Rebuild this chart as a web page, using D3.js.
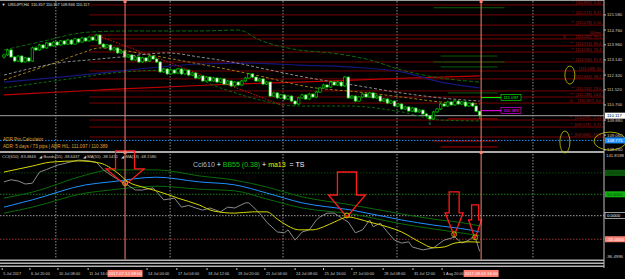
<!DOCTYPE html>
<html>
<head>
<meta charset="utf-8">
<script src="https://cdn.jsdelivr.net/npm/d3@7"></script>
<style>
  body { margin: 0; background: #000; overflow: hidden; }
  svg { display: block; font-family: 'Liberation Sans', Arial, sans-serif; }
  text { white-space: pre; }
</style>
</head>
<body>
<div id="chart"></div>
<script>
// USDJPY H4 candles (bar 0 = 5 Jul 2017), open of each bar = previous close
const firstOpen = 113.30
const closes = [113.41, 113.68, 113.30, 113.08, 113.35, 113.03, 113.25, 113.08, 113.79, 113.68,
  113.95, 113.79, 114.06, 113.90, 114.11, 113.95, 114.17, 114.00, 114.22, 114.00,
  114.28, 114.11, 114.33, 114.17, 114.38, 114.22, 114.49, 114.00, 113.84, 113.95,
  113.68, 113.79, 113.52, 113.62, 113.30, 113.41, 113.14, 113.30, 113.03, 113.25,
  113.08, 113.35, 113.19, 113.03, 112.49, 112.65, 112.38, 112.59, 112.43, 112.65,
  112.38, 112.59, 112.32, 112.43, 112.16, 112.27, 112.00, 112.21, 112.00, 112.16,
  111.94, 112.11, 111.83, 112.00, 111.73, 111.94, 111.78, 112.00, 112.16, 112.38,
  112.21, 112.00, 112.11, 111.83, 111.94, 111.18, 111.35, 111.08, 111.24, 111.02,
  111.18, 110.91, 110.75, 111.08, 111.24, 111.02, 111.29, 111.13, 111.40, 111.62,
  111.78, 111.67, 111.94, 111.78, 111.94, 111.73, 112.21, 111.08, 111.18, 110.91,
  111.13, 111.29, 111.13, 111.35, 111.08, 111.18, 110.91, 111.02, 110.80, 110.91,
  110.64, 110.75, 110.48, 110.59, 110.37, 110.53, 110.32, 110.42, 110.21, 110.10,
  109.94, 110.32, 110.48, 110.75, 110.64, 110.86, 110.70, 110.91, 110.75, 110.86,
  110.64, 110.80, 110.64, 110.36, 110.12]
const highs = [113.47, 113.74, 113.73, 113.35, 113.40, 113.39, 113.31, 113.29, 113.86, 113.88,
  114.01, 114.00, 114.12, 114.10, 114.18, 114.16, 114.22, 114.21, 114.29, 114.26,
  114.34, 114.32, 114.39, 114.37, 114.44, 114.42, 114.55, 114.52, 114.05, 114.00,
  113.99, 113.85, 113.83, 113.68, 113.66, 113.47, 113.45, 113.36, 113.34, 113.31,
  113.29, 113.41, 113.40, 113.24, 113.08, 112.71, 112.69, 112.65, 112.64, 112.71,
  112.69, 112.65, 112.63, 112.49, 112.47, 112.33, 112.31, 112.27, 112.25, 112.22,
  112.20, 112.17, 112.15, 112.06, 112.04, 112.00, 111.99, 112.06, 112.22, 112.44,
  112.42, 112.25, 112.17, 112.15, 112.00, 111.98, 111.41, 111.39, 111.30, 111.28,
  111.24, 111.22, 110.96, 111.14, 111.30, 111.28, 111.35, 111.33, 111.46, 111.68,
  111.84, 111.83, 112.00, 111.99, 112.00, 111.98, 112.27, 112.25, 111.24, 111.22,
  111.19, 111.35, 111.33, 111.41, 111.39, 111.24, 111.22, 111.08, 111.06, 110.97,
  110.95, 110.81, 110.79, 110.65, 110.63, 110.59, 110.57, 110.48, 110.46, 110.26,
  110.15, 110.38, 110.54, 110.81, 110.80, 110.92, 110.91, 110.97, 110.96, 110.92,
  110.90, 110.86, 110.85, 110.69, 110.36]
const lows = [113.22, 113.36, 113.24, 113.01, 113.03, 112.97, 112.99, 113.02, 113.04, 113.62,
  113.63, 113.72, 113.74, 113.85, 113.86, 113.90, 113.91, 113.94, 113.96, 113.95,
  113.96, 114.05, 114.07, 114.12, 114.13, 114.17, 114.18, 113.95, 113.78, 113.79,
  113.62, 113.63, 113.46, 113.47, 113.24, 113.25, 113.08, 113.09, 112.97, 112.98,
  113.02, 113.03, 113.14, 112.97, 112.43, 112.44, 112.32, 112.33, 112.38, 112.38,
  112.32, 112.33, 112.26, 112.27, 112.10, 112.11, 111.94, 111.95, 111.95, 111.95,
  111.88, 111.89, 111.77, 111.78, 111.67, 111.68, 111.73, 111.73, 111.95, 112.11,
  112.16, 111.94, 111.95, 111.77, 111.78, 111.12, 111.13, 111.02, 111.03, 110.96,
  110.97, 110.85, 110.68, 110.70, 111.03, 110.97, 110.97, 111.08, 111.08, 111.35,
  111.57, 111.62, 111.62, 111.73, 111.73, 111.67, 111.68, 111.02, 111.03, 110.85,
  110.86, 111.08, 111.08, 111.08, 111.02, 111.03, 110.85, 110.86, 110.74, 110.75,
  110.58, 110.59, 110.42, 110.43, 110.31, 110.32, 110.26, 110.27, 110.15, 110.03,
  109.86, 109.89, 110.27, 110.43, 110.59, 110.59, 110.65, 110.65, 110.70, 110.70,
  110.58, 110.59, 110.59, 110.30, 109.95]

// moving averages on price: [bar, price]
const maGreenUpper = [[0, 113.68], [10, 114.11], [24, 114.65], [35, 114.71], [55, 114.71], [66, 114.76], [72, 114.22], [83, 113.68], [92, 113.52], [103, 113.14], [112, 112.59], [123, 112.16], [134, 111.94]]
const maGreenLower = [[0, 111.62], [16, 112.05], [34, 112.49], [47, 112.59], [61, 111.62], [72, 110.97], [83, 110.64], [97, 110.64], [112, 110.32], [123, 109.88], [134, 109.83]]
const maSilver = [[0, 112.32], [7, 112.65], [15, 112.97], [24, 113.14], [33, 113.30], [46, 113.52], [55, 113.30], [64, 113.03], [75, 112.59], [83, 112.27], [100, 111.73], [112, 111.35], [123, 111.08], [134, 110.91]]
const maOrange = [[0, 112.05], [15, 113.03], [22, 113.52], [27, 113.79], [41, 113.41], [55, 112.92], [64, 112.59], [72, 112.27], [86, 111.67], [100, 111.40], [112, 111.13], [123, 110.86], [134, 110.75]]
const maNavy = [[0, 111.94], [16, 112.21], [35, 112.59], [55, 112.92], [69, 112.97], [83, 112.86], [97, 112.76], [112, 112.49], [123, 111.94], [134, 111.62]]
const maRed = [[0, 111.24], [27, 111.51], [58, 111.78], [83, 111.94], [114, 112.16], [134, 112.27]]
const trendLine = [[26, 114.49], [79, 110.64]]

// fibo / pivot levels drawn from bar 24 to the axis
const fibPrices = [116.12, 115.58, 115.03, 114.49, 114.28, 113.90, 113.57, 113.03, 112.54, 112.11, 111.46, 111.13, 110.80, 109.88, 109.50, 108.96]
const fibLabels = ['*  [116.863]  3.45', '*  [115.571]  8.22', '**  [115.078]  5.16', '100ma', 'd          [114.282]  99.5',
  '***  [113.913]  86.4', '**  [113.585]  76.4', '*  [113.356]  61.8', '[113.049]  50', '*  [112.843]  38.2',
  '**  [111.532]  23.6', '***  [111.288]  14.6', 't1     [110.847]  0.0', '**  [110.079]  -2.14', '*  [109.577]  -9.72', '*  [109.066]  -16.8']
const greenStubs = [[121, 141, 115.97], [123, 139, 113.35], [121, 141, 113.03], [123, 139, 112.76], [125, 139, 111.35]]
const redStubs = [[125, 139, 109.94], [121, 139, 108.74], [123, 139, 108.42]]

const priceTicks = [115.580, 114.760, 113.960, 113.140, 112.320, 111.520, 110.700, 109.880, 109.060, 108.260]
const lastPrice = 110.117
const adrHigh = 111.097
const adrLow = 110.389
const bluePrice = 108.775

// CCI pane: [bar, value]
const cciMain = [[0, 79], [2, 84], [4, 81], [6, 74], [8, 76], [10, 102], [12, 108], [15, 118], [18, 124], [21, 130], [24, 128], [26, 125], [28, 107], [31, 90], [34, 76], [37, 60], [39, 60], [42, 65], [45, 37], [48, 41], [50, 20], [52, 24], [54, 18], [56, 13], [58, 18], [61, 9], [63, 20], [65, 18], [68, 30], [69, 30], [72, 6], [74, -15], [77, -38], [79, -40], [80, -33], [82, -57], [84, -38], [86, -33], [88, -10], [89, -3], [91, 6], [93, 6], [96, -10], [97, -15], [99, -40], [101, -33], [103, -10], [104, -26], [106, -17], [108, -38], [110, -57], [112, -64], [114, -61], [115, -73], [118, -80], [121, -75], [124, -57], [127, -50], [129, -64], [131, -57], [132, -50], [133, -57], [134, -83.5]]
const cciMa13 = [[0, 102], [8, 116], [13, 125], [21, 128], [27, 123], [32, 100], [35, 79], [39, 67], [43, 58], [49, 41], [55, 25], [59, 11], [65, 6], [70, 9], [74, 9], [77, -8], [80, -24], [83, -33], [87, -33], [90, -26], [93, -15], [97, -3], [100, -8], [103, -15], [108, -26], [112, -38], [117, -61], [121, -75], [124, -73], [127, -64], [131, -61], [134, -62]]
const cciMa55 = [[0, 20], [8, 37], [23, 72], [30, 79], [43, 90], [55, 79], [65, 72], [74, 53], [84, 30], [98, 13], [112, -10], [121, -22], [131, -33], [134, -38]]
const bandUpper = [[0, 41], [8, 55], [23, 95], [30, 107], [43, 107], [55, 93], [65, 83], [74, 67], [84, 44], [98, 25], [112, 4], [121, -8], [131, -19], [134, -24]]
const bandLower = [[0, 6], [8, 20], [23, 53], [30, 60], [43, 69], [55, 62], [65, 58], [74, 39], [84, 18], [98, 4], [112, -19], [121, -31], [131, -43], [134, -47]]
const cciLevels = [100, 50, 0, -55]
const cciLevelLabels = ['100.0000', '50.0000', '0.0000', '-55.0000']

// arrows marking signals: tip bar, tip value, shaft width, head width, height, shaft height
const arrows = [[34.1, 72, 19, 38, 34, 18], [96.6, -3, 19, 37, 45, 23], [126.8, -47, 10, 18, 44, 21], [132.7, -54, 7, 13, 34, 15]]

const gridBars = [14.6, 46.8, 78.6, 110.7, 149]
const cursorBars = [34.1, 134.4]
const timeBars = [-0.5, 7.3, 15.2, 23.7, 40.3, 48.7, 57.2, 65.6, 73.5, 82, 90, 98, 106.8, 115.2, 123.4]
const timeLabels = ['5 Jul 2017', '6 Jul 20:00', '10 Jul 08:00', '11 Jul 16:00', '14 Jul 00:00', '17 Jul 04:00', '18 Jul 12:00', '19 Jul 20:00', '21 Jul 04:00', '24 Jul 08:00', '25 Jul 16:00', '27 Jul 00:00', '28 Jul 08:00', '31 Jul 12:00', '1 Aug 20:00']
const cursorLabels = ['2017.07.12 08:00', '2017.08.03 16:00']

const width = 625
const height = 279
const axisX = 604

const svg = d3
  .select('#chart')
  .append('svg')
  .attr('width', width)
  .attr('height', height)

svg.append('rect').attr('width', width).attr('height', height).attr('fill', '#000')

const x = d3.scaleLinear().domain([0, 134]).range([4, 479.7])
const yPrice = d3.scaleLinear().domain([108.147, 116.39]).range([152, 0])
const yCci = d3.scaleLinear().domain([-96.4996, 141.8188]).range([257, 155])

const defs = svg.append('defs')
defs.append('clipPath').attr('id', 'mainClip').append('rect').attr('x', 0).attr('y', 1).attr('width', axisX).attr('height', 150)
defs.append('clipPath').attr('id', 'cciClip').append('rect').attr('x', 0).attr('y', 153).attr('width', axisX).attr('height', 106)

// vertical grid
svg
  .selectAll('.grid')
  .data(gridBars)
  .join('line')
  .attr('x1', (d) => x(d))
  .attr('x2', (d) => x(d))
  .attr('y1', 1)
  .attr('y2', 259)
  .attr('stroke', '#b8b8b8')
  .attr('stroke-width', 0.8)
  .attr('stroke-dasharray', '1.5,1.5')

const main = svg.append('g').attr('clip-path', 'url(#mainClip)')

// fib levels
main
  .selectAll('.fib')
  .data(fibPrices)
  .join('line')
  .attr('x1', x(24))
  .attr('x2', axisX)
  .attr('y1', (d) => yPrice(d))
  .attr('y2', (d) => yPrice(d))
  .attr('stroke', '#7a0000')
  .attr('stroke-width', 1)

main
  .selectAll('.fibLabel')
  .data(fibPrices)
  .join('text')
  .attr('x', 601)
  .attr('y', (d) => yPrice(d) - 1)
  .attr('text-anchor', 'end')
  .attr('font-size', 3.8)
  .attr('fill', '#a01818')
  .text((d, i) => fibLabels[i])

// short pivot segments
main
  .selectAll('.gstub')
  .data(greenStubs)
  .join('line')
  .attr('x1', (d) => x(d[0]))
  .attr('x2', (d) => x(d[1]))
  .attr('y1', (d) => yPrice(d[2]))
  .attr('y2', (d) => yPrice(d[2]))
  .attr('stroke', '#0a5a0a')
  .attr('stroke-width', 1)
main
  .selectAll('.rstub')
  .data(redStubs)
  .join('line')
  .attr('x1', (d) => x(d[0]))
  .attr('x2', (d) => x(d[1]))
  .attr('y1', (d) => yPrice(d[2]))
  .attr('y2', (d) => yPrice(d[2]))
  .attr('stroke', '#b00000')
  .attr('stroke-width', 1)

// current price + blue dotted level
main
  .append('line')
  .attr('x1', 0)
  .attr('x2', axisX)
  .attr('y1', yPrice(lastPrice))
  .attr('y2', yPrice(lastPrice))
  .attr('stroke', '#a0a0a0')
  .attr('stroke-width', 1)
main
  .append('line')
  .attr('x1', 0)
  .attr('x2', axisX)
  .attr('y1', yPrice(bluePrice))
  .attr('y2', yPrice(bluePrice))
  .attr('stroke', '#1e90ff')
  .attr('stroke-width', 1)
  .attr('stroke-dasharray', '1.5,1.5')

const priceLine = d3
  .line()
  .x((d) => x(d[0]))
  .y((d) => yPrice(d[1]))
  .curve(d3.curveMonotoneX)

const maStyles = [
  [maRed, '#c00000', null, 1.2],
  [maNavy, '#16167e', null, 1.2],
  [maGreenLower, '#0b6b0b', '3,2', 1],
  [maOrange, '#a07818', '3,2', 1],
  [maSilver, '#8c8c8c', '3,2', 1],
  [maGreenUpper, '#0b6b0b', '4,2', 1],
]
maStyles.forEach(([data, color, dash, w]) => {
  main
    .append('path')
    .datum(data)
    .attr('d', priceLine)
    .attr('fill', 'none')
    .attr('stroke', color)
    .attr('stroke-width', w)
    .attr('stroke-dasharray', dash)
})

main
  .append('path')
  .datum(trendLine)
  .attr('d', d3.line().x((d) => x(d[0])).y((d) => yPrice(d[1])))
  .attr('fill', 'none')
  .attr('stroke', '#d01010')
  .attr('stroke-width', 1)
  .attr('stroke-dasharray', '1.5,1.5')

// candles
const candles = closes.map((c, i) => ({
  i: i,
  o: i === 0 ? firstOpen : closes[i - 1],
  c: c,
  h: highs[i],
  l: lows[i],
}))
const cg = main.append('g')
cg.selectAll('line')
  .data(candles)
  .join('line')
  .attr('x1', (d) => x(d.i))
  .attr('x2', (d) => x(d.i))
  .attr('y1', (d) => yPrice(d.h))
  .attr('y2', (d) => yPrice(d.l))
  .attr('stroke', '#00e000')
  .attr('stroke-width', 0.8)
cg.selectAll('rect')
  .data(candles)
  .join('rect')
  .attr('x', (d) => x(d.i) - 1.3)
  .attr('width', 2.6)
  .attr('y', (d) => yPrice(Math.max(d.o, d.c)))
  .attr('height', (d) => Math.max(0.8, Math.abs(yPrice(d.o) - yPrice(d.c))))
  .attr('fill', (d) => (d.c >= d.o ? '#000' : '#fff'))
  .attr('stroke', '#00e000')
  .attr('stroke-width', 0.6)

main
  .append('text')
  .attr('x', x(120) - 1.5)
  .attr('y', yPrice(lows[120]) + 5)
  .attr('font-size', 4)
  .attr('fill', '#20c0c0')
  .text('3')

// ADR high / low markers
;[[adrHigh, '#00ff00'], [adrLow, '#ff00ff']].forEach(([p, col]) => {
  main
    .append('line')
    .attr('x1', x(134.4))
    .attr('x2', x(140))
    .attr('y1', yPrice(p))
    .attr('y2', yPrice(p))
    .attr('stroke', col)
    .attr('stroke-width', 1)
  main
    .append('rect')
    .attr('x', x(140))
    .attr('y', yPrice(p) - 3)
    .attr('width', 20)
    .attr('height', 6)
    .attr('fill', '#000')
    .attr('stroke', col)
    .attr('stroke-width', 0.6)
  main
    .append('text')
    .attr('x', x(140) + 10)
    .attr('y', yPrice(p) + 1.6)
    .attr('text-anchor', 'middle')
    .attr('font-size', 4.3)
    .attr('fill', col)
    .text(p.toFixed(3))
})

// yellow ellipses
const ellipses = [[159.4, 112.32, 5, 9], [158, 108.69, 5, 11], [170.7, 108.74, 16, 9]]

// texts in main pane
svg.append('text').attr('x', 1.5).attr('y', 6).attr('font-size', 4).attr('fill', '#e0e0e0').text('▼')
svg
  .append('text')
  .attr('x', 8)
  .attr('y', 6)
  .attr('font-size', 3.9)
  .attr('fill', '#e0e0e0')
  .text('USDJPY,H4  110.357 110.357 109.946 110.117')
svg.append('text').attr('x', 3).attr('y', 140.5).attr('font-size', 4.6).attr('fill', '#e0a030').text('ADR Pro Calculator')
svg
  .append('text')
  .attr('x', 3)
  .attr('y', 147.5)
  .attr('font-size', 4.6)
  .attr('fill', '#e0a030')
  .text('ADR: 5 days / 73 pips | ADR H/L: 111.097 / 110.389')

// separators
svg.append('rect').attr('x', 0).attr('y', 0).attr('width', axisX).attr('height', 1).attr('fill', '#9a9a9a')
svg.append('rect').attr('x', 0).attr('y', 151).attr('width', axisX).attr('height', 2).attr('fill', '#a8a8a8')
;[259.5, 262.5, 265.5].forEach((yy) => {
  svg.append('rect').attr('x', 0).attr('y', yy).attr('width', axisX).attr('height', 1.5).attr('fill', '#b4b4b4')
})

// CCI pane
const cci = svg.append('g').attr('clip-path', 'url(#cciClip)')
const levelColors = ['#0b5a0b', '#1a9a1a', '#c8c8c8', '#c04040']
cci
  .selectAll('.lvl')
  .data(cciLevels)
  .join('line')
  .attr('x1', 0)
  .attr('x2', axisX)
  .attr('y1', (d) => yCci(d))
  .attr('y2', (d) => yCci(d))
  .attr('stroke', (d, i) => levelColors[i])
  .attr('stroke-width', 0.8)
  .attr('stroke-dasharray', '1.5,1.5')

const cciSmooth = d3
  .line()
  .x((d) => x(d[0]))
  .y((d) => yCci(d[1]))
  .curve(d3.curveMonotoneX)
const cciSharp = d3
  .line()
  .x((d) => x(d[0]))
  .y((d) => yCci(d[1]))

;[
  [bandUpper, '#0b6b0b', cciSmooth],
  [bandLower, '#0b6b0b', cciSmooth],
  [cciMa55, '#1e90ff', cciSmooth],
  [cciMain, '#8a8a8a', cciSharp],
  [cciMa13, '#d8d800', cciSmooth],
].forEach(([data, color, gen]) => {
  cci
    .append('path')
    .datum(data)
    .attr('d', gen)
    .attr('fill', 'none')
    .attr('stroke', color)
    .attr('stroke-width', 1)
})

// arrows
const arrowLine = d3.line()
svg
  .selectAll('.arrow')
  .data(arrows)
  .join('path')
  .attr('d', ([b, v, w, hw, h, sh]) => {
    const tx = x(b)
    const ty = yCci(v)
    const top = ty - h
    return (
      arrowLine([
        [tx - w / 2, top],
        [tx + w / 2, top],
        [tx + w / 2, top + sh],
        [tx + hw / 2, top + sh],
        [tx, ty],
        [tx - hw / 2, top + sh],
        [tx - w / 2, top + sh],
      ]) + 'Z'
    )
  })
  .attr('fill', 'none')
  .attr('stroke', '#ff1a1a')
  .attr('stroke-width', 1.3)
svg
  .selectAll('.tipCircle')
  .data(arrows)
  .join('circle')
  .attr('cx', (d) => x(d[0]))
  .attr('cy', (d) => yCci(d[1]) - 1.5)
  .attr('r', 2.5)
  .attr('fill', 'none')
  .attr('stroke', '#c8c800')
  .attr('stroke-width', 0.8)

// CCI header
const hdr = svg.append('text').attr('x', 2).attr('y', 158).attr('font-size', 4.1).attr('fill', '#c8c8c8')
hdr.append('tspan').text('CCI(610) -83.4846   ')
hdr.append('tspan').text('◢ Bands(55) -38.6437   ')
hdr.append('tspan').text('◢ MA(55) -38.1451   ')
hdr.append('tspan').text('◢ MA(13) -68.1580')

const title = svg.append('text').attr('x', 193).attr('y', 166.5).attr('font-size', 7)
title.append('tspan').attr('fill', '#a8bcd0').text('Cci610 ')
title.append('tspan').attr('fill', '#ffffff').text('+ ')
title.append('tspan').attr('fill', '#10c010').text('BB55 (0.38) ')
title.append('tspan').attr('fill', '#ffffff').text('+ ')
title.append('tspan').attr('fill', '#f0f000').text('ma13')
title.append('tspan').attr('fill', '#ffffff').text('  = TS')

// cursor lines
svg
  .selectAll('.cursor')
  .data(cursorBars)
  .join('line')
  .attr('x1', (d) => x(d))
  .attr('x2', (d) => x(d))
  .attr('y1', 0)
  .attr('y2', 259.5)
  .attr('stroke', '#fa8072')
  .attr('stroke-width', 1)
cursorBars.forEach((b) => {
  ;[0, 151].forEach((yy) => {
    svg.append('rect').attr('x', x(b) - 1.5).attr('y', yy).attr('width', 3).attr('height', 3).attr('fill', '#fa8072')
  })
})

svg
  .selectAll('.ellipse')
  .data(ellipses)
  .join('ellipse')
  .attr('cx', (d) => x(d[0]))
  .attr('cy', (d) => yPrice(d[1]))
  .attr('rx', (d) => d[2])
  .attr('ry', (d) => d[3])
  .attr('fill', 'none')
  .attr('stroke', '#c8c800')
  .attr('stroke-width', 0.8)

// right axis
svg.append('line').attr('x1', axisX).attr('x2', axisX).attr('y1', 0).attr('y2', 268).attr('stroke', '#c0c0c0').attr('stroke-width', 1)
svg
  .selectAll('.ptick')
  .data(priceTicks)
  .join('text')
  .attr('x', 607)
  .attr('y', (d) => yPrice(d) + 1.5)
  .attr('font-size', 4.3)
  .attr('fill', '#d0d0d0')
  .text((d) => d.toFixed(3))
svg
  .selectAll('.ptickmark')
  .data(priceTicks)
  .join('line')
  .attr('x1', axisX)
  .attr('x2', axisX + 2)
  .attr('y1', (d) => yPrice(d))
  .attr('y2', (d) => yPrice(d))
  .attr('stroke', '#c0c0c0')

function axisBox(yy, label, bg, fg, border) {
  svg.append('rect').attr('x', axisX + 1).attr('y', yy - 3).attr('width', 21).attr('height', 6).attr('fill', bg).attr('stroke', border || 'none').attr('stroke-width', 0.6)
  svg.append('text').attr('x', axisX + 3).attr('y', yy + 1.6).attr('font-size', 4.3).attr('fill', fg).text(label)
}
axisBox(yPrice(lastPrice), lastPrice.toFixed(3), '#ffffff', '#000000')
axisBox(yPrice(bluePrice), bluePrice.toFixed(3), '#1e90ff', '#ffffff')

svg.append('text').attr('x', 606).attr('y', 157).attr('font-size', 4.3).attr('fill', '#d0d0d0').text('141.8188')
svg.append('text').attr('x', 606).attr('y', 258).attr('font-size', 4.3).attr('fill', '#d0d0d0').text('-96.4996')
const levelBg = ['#0b5a0b', '#10b010', '#000000', '#fa8072']
const levelFg = ['#063806', '#063806', '#ffffff', '#ffffff']
cciLevels.forEach((v, i) => {
  axisBox(yCci(v), cciLevelLabels[i], levelBg[i], levelFg[i], i === 2 ? '#ffffff' : null)
})

// time axis
svg
  .selectAll('.tmark')
  .data(timeBars)
  .join('line')
  .attr('x1', (d) => x(d))
  .attr('x2', (d) => x(d))
  .attr('y1', 268)
  .attr('y2', 270)
  .attr('stroke', '#c0c0c0')
svg
  .selectAll('.tlabel')
  .data(timeBars)
  .join('text')
  .attr('x', (d) => x(d) + 1)
  .attr('y', 275)
  .attr('font-size', 3.9)
  .attr('fill', '#d0d0d0')
  .text((d, i) => timeLabels[i])
cursorBars.forEach((b, i) => {
  svg.append('rect').attr('x', x(b) - 17.5).attr('y', 270).attr('width', 35).attr('height', 7).attr('fill', '#fa8072')
  svg.append('text').attr('x', x(b)).attr('y', 275).attr('text-anchor', 'middle').attr('font-size', 4.3).attr('fill', '#ffffff').text(cursorLabels[i])
})
</script>
</body>
</html>
